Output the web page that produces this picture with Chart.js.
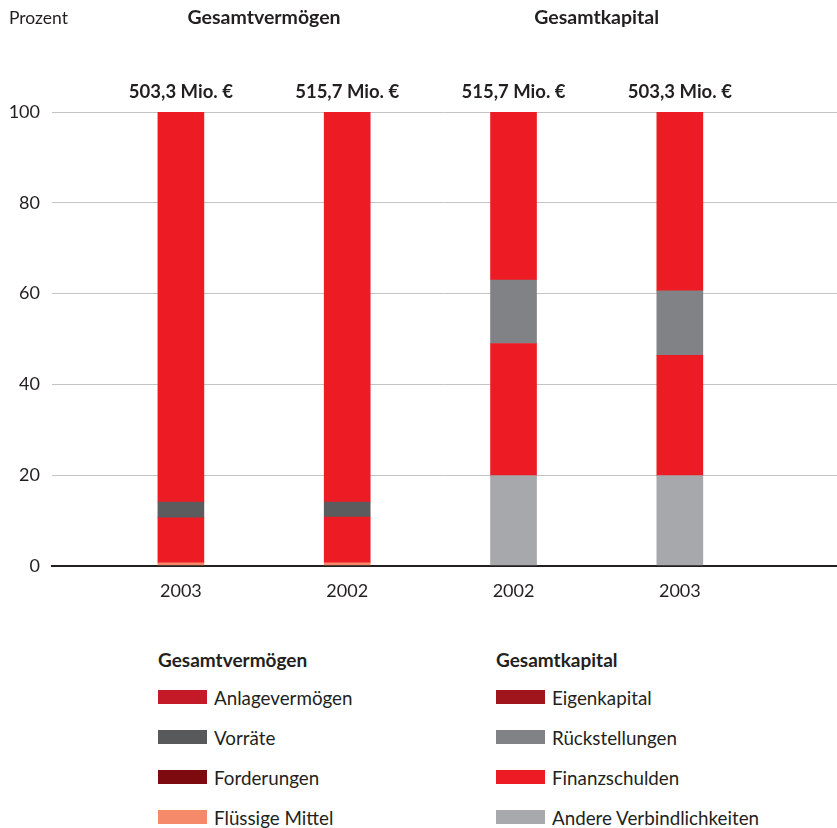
<!DOCTYPE html>
<html>
<head>
<meta charset="utf-8">
<script src="https://cdn.jsdelivr.net/npm/chart.js@4.4.0/dist/chart.umd.min.js"></script>
<style>
    body { margin: 0; background: #fff; font-family: Lato, sans-serif; color: #231f20; }
    #wrap { position: relative; width: 837px; height: 828px; }
    #box { position: absolute; left: 0; top: 0; width: 837px; height: 610px; }
    .col { position: absolute; top: 648px; }
    .col h4 { margin: 0 0 5px 0; font-size: 19px; font-weight: bold; height: 24px; line-height: 24px; }
    .row { height: 40px; display: flex; align-items: center; font-size: 18.8px; }
    .row span.sw { display: inline-block; width: 49px; height: 14px; margin-right: 7px; }
</style>
</head>
<body>
<div id="wrap">
    <div id="box"><canvas id="myChart"></canvas></div>
    <div class="col" id="leg1" style="left:158px"></div>
    <div class="col" id="leg2" style="left:496px"></div>
</div>
<script>
const categories = ['2003', '2002', '2002', '2003']
const totals = ['503,3 Mio. €', '515,7 Mio. €', '515,7 Mio. €', '503,3 Mio. €']
const groups = ['Gesamtvermögen', 'Gesamtkapital']
const yTicks = [0, 20, 40, 60, 80, 100]

// Gesamtvermögen (Bar 1 und 2)
const fluessigeMittel = [0.7, 0.7, null, null]
const forderungen = [9.9, 10.1, null, null]
const vorraete = [3.5, 3.3, null, null]
const anlagevermoegen = [85.9, 85.9, null, null]

// Gesamtkapital (Bar 3 und 4)
const andereVerbindlichkeiten = [null, null, 19.9, 19.9]
const finanzschulden = [null, null, 29.1, 26.5]
const rueckstellungen = [null, null, 14.0, 14.2]
const eigenkapital = [null, null, 37.0, 39.4]

const txt = '#231f20'
const font = 'Lato, sans-serif'

// Farbe im Balken / Farbe in der Legende
const series = [
    { label: 'Flüssige Mittel', data: fluessigeMittel, bar: '#f58a6a', legend: '#f58a6a', col: 1 },
    { label: 'Forderungen', data: forderungen, bar: '#ed1c24', legend: '#7d0a0e', col: 1 },
    { label: 'Vorräte', data: vorraete, bar: '#5b5c5e', legend: '#58595b', col: 1 },
    { label: 'Anlagevermögen', data: anlagevermoegen, bar: '#ed1c24', legend: '#c41a27', col: 1 },
    { label: 'Andere Verbindlichkeiten', data: andereVerbindlichkeiten, bar: '#a7a8ab', legend: '#a7a9ac', col: 2 },
    { label: 'Finanzschulden', data: finanzschulden, bar: '#ed1c24', legend: '#ed1c24', col: 2 },
    { label: 'Rückstellungen', data: rueckstellungen, bar: '#818285', legend: '#808285', col: 2 },
    { label: 'Eigenkapital', data: eigenkapital, bar: '#ed1c24', legend: '#a0141b', col: 2 },
]

var buildLegend = (id, title, items) => {
    const el = document.getElementById(id)
    let html = '<h4>' + title + '</h4>'
    items.slice().reverse().forEach(s => {
        html += '<div class="row"><span class="sw" style="background:' + s.legend + '"></span>' + s.label + '</div>'
    })
    el.innerHTML = html
}
buildLegend('leg1', groups[0], series.filter(s => s.col == 1))
buildLegend('leg2', groups[1], series.filter(s => s.col == 2))

const labelsPlugin = {
    id: 'labels',
    afterDraw(chart) {
        const ctx = chart.ctx
        const x = chart.scales.x
        const y = chart.scales.y
        ctx.save()
        ctx.fillStyle = txt
        ctx.textBaseline = 'middle'
        ctx.textAlign = 'left'
        ctx.font = '17.5px ' + font
        ctx.fillText('Prozent', 9, 18)
        ctx.textAlign = 'center'
        ctx.font = 'bold 18.5px ' + font
        totals.forEach((t, i) => {
            ctx.fillText(t, x.getPixelForValue(i + 1), y.getPixelForValue(100) - 20)
        })
        ctx.font = 'bold 19.5px ' + font
        groups.forEach((g, i) => {
            const mid = (x.getPixelForValue(i * 2 + 1) + x.getPixelForValue(i * 2 + 2)) / 2
            ctx.fillText(g, mid, 18)
        })
        ctx.restore()
    }
}

const data = {
    datasets: series.map(s => ({
        label: s.label,
        data: s.data.map((v, i) => ({ x: i + 1, y: v })),
        backgroundColor: s.bar,
        borderWidth: 0,
        barThickness: 46,
    }))
}

const config = {
    type: 'bar',
    data: data,
    options: {
        responsive: true,
        maintainAspectRatio: false,
        animation: false,
        layout: { padding: { top: 112, right: 0, left: 0, bottom: 0 } },
        plugins: { legend: { display: false }, tooltip: { enabled: false } },
        scales: {
            x: {
                type: 'linear',
                stacked: true,
                offset: false,
                min: 0.225,
                max: 4.945,
                afterBuildTicks: s => { s.ticks = categories.map((c, i) => ({ value: i + 1 })) },
                afterFit: s => { s.height = 44 },
                ticks: {
                    callback: (v) => categories[v - 1],
                    color: txt,
                    font: { family: font, size: 18 },
                    padding: 6,
                    maxRotation: 0,
                },
                grid: { display: false },
                border: { display: true, color: txt, width: 2 },
            },
            y: {
                stacked: true,
                min: 0,
                max: 100,
                afterBuildTicks: s => { s.ticks = yTicks.map(v => ({ value: v })) },
                afterFit: s => { s.width = 52 },
                ticks: {
                    color: txt,
                    font: { family: font, size: 18 },
                    padding: 12,
                },
                grid: {
                    drawTicks: false,
                    color: c => c.tick && c.tick.value === 0 ? txt : '#c4c4c4',
                    lineWidth: c => c.tick && c.tick.value === 0 ? 2 : 1,
                },
                border: { display: false },
            }
        }
    },
    plugins: [labelsPlugin]
}

const myChart = new Chart(
    document.getElementById('myChart'),
    config
)
</script>
</body>
</html>
